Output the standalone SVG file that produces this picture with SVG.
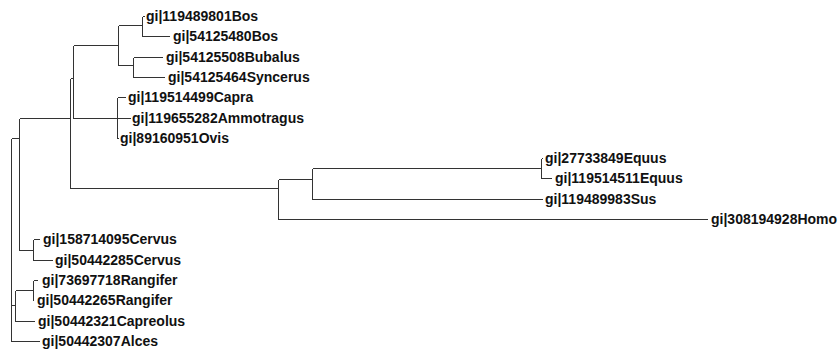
<svg xmlns="http://www.w3.org/2000/svg" width="839" height="356" viewBox="0 0 839 356">
<style>
.bg{fill:#ffffff}
.edge{fill:none;stroke:#333333;stroke-width:1;shape-rendering:crispEdges}
.lbl{font-family:"Liberation Sans",Arial,sans-serif;font-size:14px;font-weight:bold;fill:#111111}
</style>
<rect class="bg" x="0" y="0" width="839" height="356"/>
<g id="connectors">
<path class="edge" d="M142.5 16.5V36.5M142.5 16.5H145M142.5 36.5H170"/>
<path class="edge" d="M133.5 57.5V77.5M133.5 57.5H163M133.5 77.5H165"/>
<path class="edge" d="M118.5 25.5V65.5M118.5 25.5H142.5M118.5 65.5H133.5"/>
<path class="edge" d="M117.5 97.5V138.5M117.5 97.5H126M117.5 138.5H119"/>
<path class="edge" d="M73.5 45.5V118.5M73.5 45.5H118.5M73.5 118.5H131"/>
<path class="edge" d="M70.5 78.5V188.5M70.5 78.5H73.5M70.5 188.5H278.5"/>
<path class="edge" d="M19.5 118.5V250.5M19.5 118.5H70.5M19.5 250.5H33.5"/>
<path class="edge" d="M11.5 138.5V341.5M11.5 138.5H19.5M11.5 305.5H15.5M11.5 341.5H40"/>
<path class="edge" d="M541.5 158.5V178.5M541.5 158.5H543M541.5 178.5H552"/>
<path class="edge" d="M312.5 168.5V199.5M312.5 168.5H541.5M312.5 199.5H543"/>
<path class="edge" d="M278.5 179.5V219.5M278.5 179.5H312.5M278.5 219.5H708"/>
<path class="edge" d="M33.5 239.5V260.5M33.5 239.5H40M33.5 260.5H53"/>
<path class="edge" d="M33.5 280.5V300.5M33.5 280.5H38M33.5 300.5H34"/>
<path class="edge" d="M15.5 290.5V321.5M15.5 290.5H33.5M15.5 321.5H35"/>
</g>
<g id="leaf-bos1"><text class="lbl" x="146" y="21">gi|119489801Bos</text></g>
<g id="leaf-bos2"><text class="lbl" x="173" y="41">gi|54125480Bos</text></g>
<g id="leaf-bubalus"><text class="lbl" x="166" y="62">gi|54125508Bubalus</text></g>
<g id="leaf-syncerus"><text class="lbl" x="168" y="82">gi|54125464Syncerus</text></g>
<g id="leaf-capra"><text class="lbl" x="128" y="102">gi|119514499Capra</text></g>
<g id="leaf-ammotragus"><text class="lbl" x="132" y="123">gi|119655282Ammotragus</text></g>
<g id="leaf-ovis"><text class="lbl" x="120" y="143">gi|89160951Ovis</text></g>
<g id="leaf-equus1"><text class="lbl" x="545" y="163">gi|27733849Equus</text></g>
<g id="leaf-equus2"><text class="lbl" x="555" y="183">gi|119514511Equus</text></g>
<g id="leaf-sus"><text class="lbl" x="545" y="204">gi|119489983Sus</text></g>
<g id="leaf-homo"><text class="lbl" x="711" y="224">gi|308194928Homo</text></g>
<g id="leaf-cervus1"><text class="lbl" x="43" y="244">gi|158714095Cervus</text></g>
<g id="leaf-cervus2"><text class="lbl" x="55" y="265">gi|50442285Cervus</text></g>
<g id="leaf-rangifer1"><text class="lbl" x="42" y="285">gi|73697718Rangifer</text></g>
<g id="leaf-rangifer2"><text class="lbl" x="37" y="305">gi|50442265Rangifer</text></g>
<g id="leaf-capreolus"><text class="lbl" x="38" y="326">gi|50442321Capreolus</text></g>
<g id="leaf-alces"><text class="lbl" x="42" y="346">gi|50442307Alces</text></g>
</svg>
